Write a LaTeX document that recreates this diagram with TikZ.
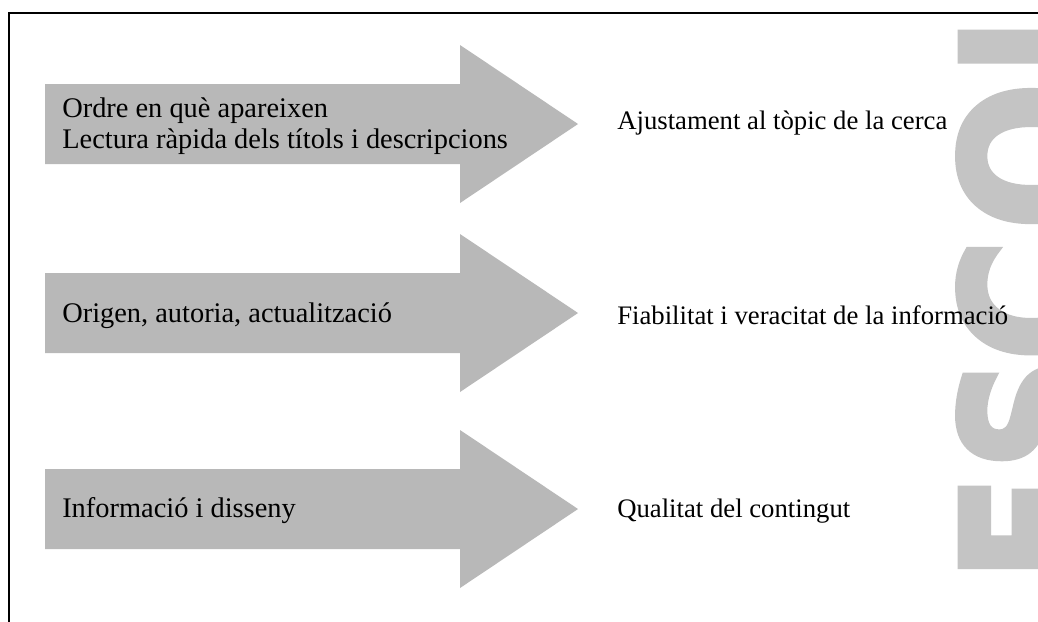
\documentclass[tikz,border=0pt]{standalone}
\usepackage{fontspec}
\setmainfont{Liberation Serif}
\newfontfamily\markfont{DejaVu Sans}[BoldFeatures={FakeBold=3}]
\usetikzlibrary{positioning}
\definecolor{arrowgray}{gray}{0.72}
\definecolor{markgray}{gray}{0.77}
\tikzset{
  bigarrow/.style={fill=arrowgray},
  crit/.style={anchor=west, inner sep=0pt, font=\fontsize{20.2}{21.8}\selectfont},
  result/.style={anchor=west, inner sep=0pt, font=\fontsize{19}{21}\selectfont},
  markletter/.style={rotate=90, anchor=base, inner sep=0pt, text=markgray,
    font=\markfont\bfseries\fontsize{138}{140}\selectfont}
}

\begin{document}
\begin{tikzpicture}[x=0.025cm, y=-0.025cm]
    \useasboundingbox (0,0) rectangle (1038,621);
    \clip (0,0) rectangle (1038,621);
    \fill[white] (0,0) rectangle (1038,621);

    % Watermark
    \node[markletter] (mE) at (1102,528) {\scalebox{0.8}[1]{E}};
    \node[markletter] (mS) at (1102,413) {\scalebox{0.82}[1]{S}};
    \node[markletter] (mC) at (1102,300) {\scalebox{0.86}[1]{C}};
    \node[markletter] (mO) at (1102,156) {\scalebox{0.9}[1]{O}};
    \node[markletter] (mL) at (1102,26) {\scalebox{0.8}[1]{L}};

    % Frame
    \draw[line width=2pt] (9,640) -- (9,13) -- (1060,13);

    % Arrows
    \fill[bigarrow] (45,84) -- (460,84) -- (460,45) -- (578,124) -- (460,203) -- (460,164) -- (45,164) -- cycle;
    \fill[bigarrow] (45,273) -- (460,273) -- (460,234) -- (578,313) -- (460,392) -- (460,353) -- (45,353) -- cycle;
    \fill[bigarrow] (45,469) -- (460,469) -- (460,430) -- (578,509) -- (460,588) -- (460,549) -- (45,549) -- cycle;

    % Criteria
    \node[crit, align=left] (order) at (62,126) {Ordre en què apareixen\\Lectura ràpida dels títols i descripcions};
    \node[crit] (origin) at (62,316) {Origen, autoria, actualització};
    \node[crit] (design) at (62,511) {Informació i disseny};

    % Results
    \node[result] (topic) at (617,123) {Ajustament al tòpic de la cerca};
    \node[result] (trust) at (617,315) {Fiabilitat i veracitat de la informació};
    \node[result] (quality) at (617,511) {Qualitat del contingut};
\end{tikzpicture}
\end{document}
